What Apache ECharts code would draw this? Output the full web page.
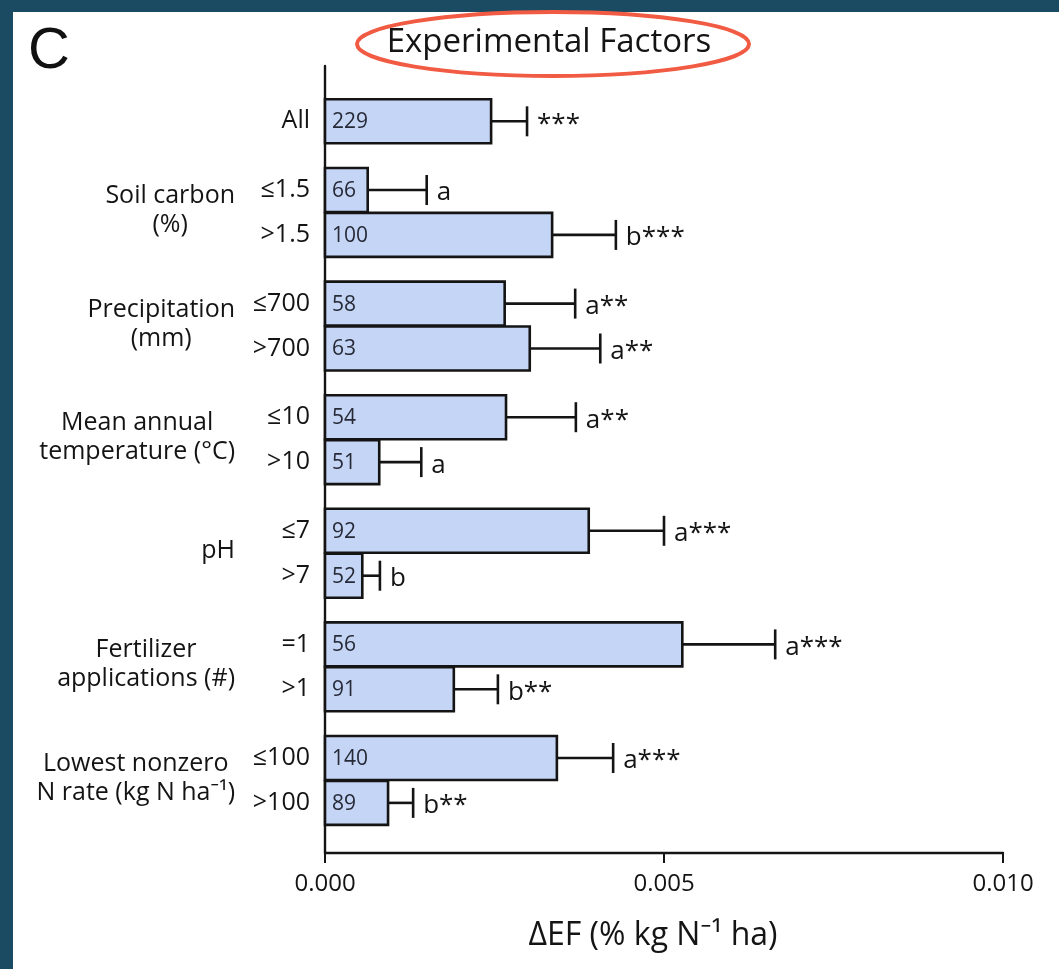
<!DOCTYPE html>
<html>
<head>
<meta charset="utf-8">
<title>Experimental Factors</title>
<script src="https://cdn.jsdelivr.net/npm/echarts@6/dist/echarts.min.js"></script>
<style>
  html, body { margin: 0; padding: 0; background: #1b4b63; }
  #chart { width: 1059px; height: 969px; }
</style>
</head>
<body>
<div id="chart"></div>
<script>
// Factor groups (left-hand block labels); "All" has no group label.
const groupLabels = [
  '',
  'Soil carbon\n(%)',
  'Precipitation\n(mm)',
  'Mean annual\ntemperature (°C)',
  'pH',
  'Fertilizer\napplications (#)',
  'Lowest nonzero\nN rate (kg N ha⁻¹)'
];

// One entry per bar, top to bottom.
const levelLabels = ['All', '≤1.5', '>1.5', '≤700', '>700', '≤10', '>10', '≤7', '>7', '=1', '>1', '≤100', '>100'];
const levelGroup  = [0, 1, 1, 2, 2, 3, 3, 4, 4, 5, 5, 6, 6];

// Mean ΔEF and upper end of the error bar
const meanEF  = [0.00245, 0.00063, 0.00335, 0.00265, 0.00302, 0.00267, 0.00080, 0.00389, 0.00055, 0.00527, 0.00190, 0.00342, 0.00093];
const upperEF = [0.00298, 0.00150, 0.00429, 0.00369, 0.00406, 0.00370, 0.00142, 0.00500, 0.00081, 0.00664, 0.00255, 0.00425, 0.00130];

// Number of observations printed inside each bar
const nObs = [229, 66, 100, 58, 63, 54, 51, 92, 52, 56, 91, 140, 89];

// Significance / grouping letters beside each error bar
const sigLabels = ['***', 'a', 'b***', 'a**', 'a**', 'a**', 'a', 'a***', 'b', 'a***', 'b**', 'a***', 'b**'];

// X axis
const xTicks = [0, 0.005, 0.010];

// ---- layout helpers ----
const GROUP_GAP = 0.53;   // extra space between factor blocks, in bar slots
const BAR_FILL = 0.98;    // fraction of a slot covered by a bar
const FONT = '"Open Sans", "Noto Sans", sans-serif';
const INK = '#141414';

const slotPos = levelLabels.map((_, i) => i + GROUP_GAP * levelGroup[i]);

const barData = levelLabels.map((_, i) => [meanEF[i], slotPos[i], upperEF[i], i]);

const groupData = [];
groupLabels.forEach((label, g) => {
  if (!label) return;
  const members = slotPos.filter((_, i) => levelGroup[i] === g);
  const center = members.reduce((a, b) => a + b, 0) / members.length;
  groupData.push([0, center, g]);
});

function renderBar(params, api) {
  const i = api.value(3);
  const pos = api.value(1);
  const base = api.coord([0, pos]);
  const top = api.coord([api.value(0), pos]);
  const errX = api.coord([api.value(2), pos])[0];
  const yc = base[1];
  const h = api.size([0, BAR_FILL])[1];
  const x0 = base[0];
  const xm = top[0];
  return {
    type: 'group',
    children: [
      {
        type: 'line',
        shape: { x1: xm, y1: yc, x2: errX, y2: yc },
        style: { stroke: INK, lineWidth: 2.6 }
      },
      {
        type: 'line',
        shape: { x1: errX, y1: yc - 15, x2: errX, y2: yc + 15 },
        style: { stroke: INK, lineWidth: 2.6 }
      },
      {
        type: 'rect',
        shape: { x: x0, y: yc - h / 2, width: xm - x0, height: h },
        style: { fill: '#c5d5f6', stroke: INK, lineWidth: 2.6 }
      },
      {
        type: 'text',
        x: x0 + 7, y: yc + 1,
        style: {
          text: String(nObs[i]), fill: '#262a36', font: '21px ' + FONT,
          align: 'left', verticalAlign: 'middle'
        }
      },
      {
        type: 'text',
        x: errX + 10, y: yc + 3,
        style: {
          text: sigLabels[i], fill: INK, font: '26px ' + FONT,
          align: 'left', verticalAlign: 'middle'
        }
      },
      {
        type: 'text',
        x: x0 - 15, y: yc,
        style: {
          text: levelLabels[i], fill: INK, font: '25px ' + FONT,
          align: 'right', verticalAlign: 'middle'
        }
      }
    ]
  };
}

function renderGroup(params, api) {
  const g = api.value(2);
  const p = api.coord([0, api.value(1)]);
  const lines = groupLabels[g].split('\n').map(s => '{c|' + s + '}').join('\n');
  return {
    type: 'text',
    x: p[0] - 90, y: p[1] - 2,
    style: {
      text: lines,
      align: 'right', verticalAlign: 'middle',
      fill: INK,
      rich: { c: { align: 'center', font: '25px ' + FONT, lineHeight: 29, fill: INK } }
    }
  };
}

const chart = echarts.init(document.getElementById('chart'), null, { renderer: 'canvas' });

chart.setOption({
  backgroundColor: '#1b4b63',
  animation: false,
  graphic: [
    { type: 'rect', shape: { x: 13, y: 12, width: 1046, height: 957 }, style: { fill: '#ffffff' }, z: -10 },
    {
      type: 'text', x: 549, y: 43,
      style: { text: 'Experimental Factors', font: '33px ' + FONT, fill: INK, align: 'center', verticalAlign: 'middle' }
    },
    {
      type: 'ellipse', shape: { cx: 553, cy: 44, rx: 196, ry: 32 },
      style: { fill: 'none', stroke: '#f25b43', lineWidth: 4 }
    },
    {
      type: 'text', x: 28, y: 52,
      style: { text: 'C', font: '58px "Liberation Sans", Arial, sans-serif', fill: '#111', align: 'left', verticalAlign: 'middle' }
    }
  ],
  grid: { left: 325, right: 56, top: 66, bottom: 116, containLabel: false },
  xAxis: {
    type: 'value',
    min: xTicks[0], max: xTicks[xTicks.length - 1], interval: 0.005,
    axisLine: { show: true, onZero: false, lineStyle: { color: INK, width: 2.4 } },
    axisTick: { show: true, length: 10, lineStyle: { color: INK, width: 2 } },
    splitLine: { show: false },
    axisLabel: {
      margin: 19, color: INK, fontSize: 24, fontFamily: FONT,
      formatter: v => v.toFixed(3)
    },
    name: 'ΔEF (% kg N⁻¹ ha)',
    nameLocation: 'middle', nameGap: 67,
    nameTextStyle: { color: INK, fontSize: 32, fontFamily: FONT, padding: [0, 22, 0, 0] }
  },
  yAxis: {
    type: 'value', inverse: true,
    min: -1.232, max: 16.296,
    axisLine: { show: true, onZero: false, lineStyle: { color: INK, width: 2.4 } },
    axisTick: { show: false }, axisLabel: { show: false }, splitLine: { show: false }
  },
  series: [
    { type: 'custom', name: 'ΔEF', data: barData, renderItem: renderBar, encode: { x: [0, 2], y: 1 }, clip: false, z: 3 },
    { type: 'custom', name: 'factor', data: groupData, renderItem: renderGroup, encode: { x: 0, y: 1 }, clip: false, z: 3 }
  ]
});
</script>
</body>
</html>
